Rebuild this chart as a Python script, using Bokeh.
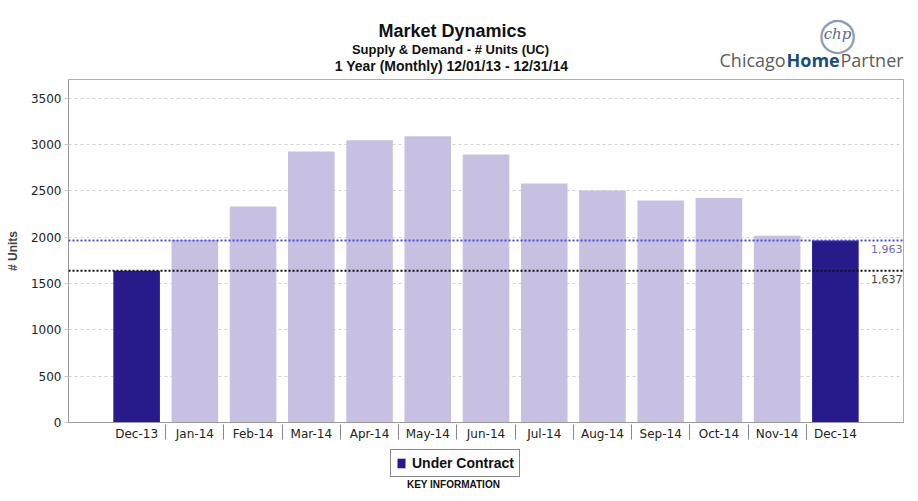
from bokeh.plotting import figure
from bokeh.layouts import column
from bokeh.models import Range1d, FixedTicker, Span, Label, Legend, LegendItem, ColumnDataSource
from bokeh.core.properties import value
from bokeh.embed import file_html
from bokeh.resources import INLINE

# ---- data ----
months = ["Dec-13", "Jan-14", "Feb-14", "Mar-14", "Apr-14", "May-14", "Jun-14",
          "Jul-14", "Aug-14", "Sep-14", "Oct-14", "Nov-14", "Dec-14"]
under_contract = [1637, 1968, 2330, 2922, 3045, 3087, 2892, 2577, 2503, 2395, 2422, 2015, 1963]
highlight = [True, False, False, False, False, False, False, False, False, False, False, False, True]
ref_current = 1963
ref_prior = 1637
y_ticks = [0, 500, 1000, 1500, 2000, 2500, 3000, 3500]

title = "Market Dynamics"
subtitle1 = "Supply & Demand - # Units (UC)"
subtitle2 = "1 Year (Monthly) 12/01/13 - 12/31/14"
series_name = "Under Contract"

DARK = "#271b8c"
LIGHT = "#c8c0e2"
SANS = "Liberation Sans"
W = 916
FRAME_L, FRAME_R = 68, 903   # plot frame edges (all stacked figures share them)

# ---------------- header (title + logo) ----------------
HH = 78
header = figure(width=W, height=HH, output_backend="svg", toolbar_location=None,
                x_range=Range1d(FRAME_L, FRAME_R), y_range=Range1d(HH, 0),
                min_border=0, outline_line_color=None)
header.axis.visible = False
header.grid.visible = False

def htext(fig, x, y, text, size, color="#111111", font=SANS, style="bold", align="center"):
    fig.text(x=[x], y=[y], text=[text], text_align=align, text_baseline="middle",
             text_font=value(font), text_font_size=size, text_color=color,
             text_font_style=style)

htext(header, 452, 30, title, "18px")
htext(header, 450, 49, subtitle1, "13px")
htext(header, 451, 65, subtitle2, "14px")
# logo
htext(header, 837, 33, "\u25EF", "34px", color="#8d9cb3", font="DejaVu Sans", style="normal")
htext(header, 837, 33, "chp", "15px", color="#5a6a85", font="DejaVu Serif", style="italic")
htext(header, 719, 59, "Chicago", "18px", color="#5d5d5d", font="Open Sans", style="normal", align="left")
htext(header, 786, 59, "Home", "18px", color="#1a4e78", font="Open Sans", style="bold", align="left")
htext(header, 840, 59, "Partner", "18px", color="#5d5d5d", font="Open Sans", style="normal", align="left")

# ---------------- main chart ----------------
idx = list(range(len(months)))
src = ColumnDataSource(dict(x=idx, top=under_contract,
                            color=[DARK if h else LIGHT for h in highlight]))

p = figure(width=W, height=367, output_backend="svg", toolbar_location=None,
           x_range=Range1d(-1.17, len(months) - 1 + 1.17), y_range=Range1d(0, 3700),
           min_border_left=FRAME_L, min_border_right=W - FRAME_R, min_border_top=1,
           min_border_bottom=23)
p.outline_line_color = "#b0b0b0"

r = p.vbar(x="x", top="top", width=0.8, fill_color="color", line_color=None, source=src)

p.xgrid.grid_line_color = None
p.ygrid.ticker = FixedTicker(ticks=y_ticks)
p.ygrid.grid_line_color = "#d0d0d0"
p.ygrid.grid_line_dash = "3 3"

xa = p.xaxis[0]
xa.ticker = FixedTicker(ticks=idx, minor_ticks=[i + 0.5 for i in idx[:-1]])
xa.major_label_overrides = {i: m for i, m in zip(idx, months)}
xa.major_tick_out = 0
xa.major_tick_in = 0
xa.minor_tick_out = 17
xa.minor_tick_in = -2
xa.minor_tick_line_color = "#888888"
xa.axis_line_color = "#999999"
xa.major_label_standoff = -13
xa.major_label_text_font = "DejaVu Sans"
xa.major_label_text_font_size = "12px"
xa.major_label_text_color = "#222222"

ya = p.yaxis[0]
ya.ticker = FixedTicker(ticks=y_ticks)
ya.major_tick_out = 4
ya.major_tick_in = 0
ya.major_tick_line_color = "#cccccc"
ya.minor_tick_line_color = None
ya.axis_line_color = "#999999"
ya.major_label_standoff = 3
ya.major_label_text_font = "DejaVu Sans"
ya.major_label_text_font_size = "12px"
ya.major_label_text_color = "#222222"
ya.axis_label = "# Units"
ya.axis_label_text_font = SANS
ya.axis_label_text_font_style = "bold"
ya.axis_label_text_font_size = "12px"
ya.axis_label_standoff = 8

p.add_layout(Span(location=ref_current, dimension="width", line_color="#4b4bc6",
                  line_width=2, line_dash="2 2"))
p.add_layout(Span(location=ref_prior, dimension="width", line_color="#111111",
                  line_width=2, line_dash="2 2"))
p.add_layout(Label(x=len(months) - 1 + 1.17, y=ref_current, text=f"{ref_current:,}",
                   text_align="right", text_baseline="top", y_offset=-4, x_offset=-1,
                   text_font="DejaVu Sans", text_font_size="11px", text_color="#6b6bc0"))
p.add_layout(Label(x=len(months) - 1 + 1.17, y=ref_prior, text=f"{ref_prior:,}",
                   text_align="right", text_baseline="top", y_offset=-4, x_offset=-1,
                   text_font="DejaVu Sans", text_font_size="11px", text_color="#444444"))

# ---------------- footer (legend) ----------------
FH = 54
footer = figure(width=W, height=FH, output_backend="svg", toolbar_location=None,
                x_range=Range1d(FRAME_L, FRAME_R), y_range=Range1d(FH, 0),
                min_border=0, outline_line_color=None)
footer.axis.visible = False
footer.grid.visible = False
# hidden renderer that only supplies the legend swatch
swatch = footer.vbar(x="x", top="top", width=0.8, fill_color=DARK, line_color=None,
                     source=src, visible=False)
legend = Legend(items=[LegendItem(label=series_name, renderers=[swatch], index=0)],
                location=(390 - FRAME_L, 22), orientation="horizontal", margin=0,
                padding=5, spacing=0, glyph_width=10, glyph_height=12,
                label_standoff=6, label_height=16,
                label_text_font=SANS, label_text_font_style="bold",
                label_text_font_size="14px", label_text_color="#111111",
                border_line_color="#111111", border_line_width=1.5,
                background_fill_color="white", background_fill_alpha=1.0)
footer.add_layout(legend, "center")
htext(footer, 453, 39, "KEY INFORMATION", "10px")

layout = column(header, p, footer, spacing=0)
open("out.html", "w").write(file_html(layout, INLINE))
